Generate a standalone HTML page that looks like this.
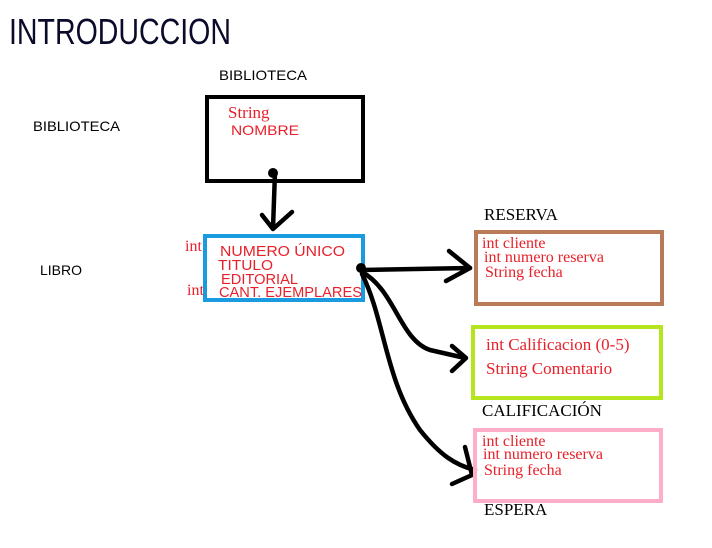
<!DOCTYPE html>
<html><head><style>
body{margin:0;background:#fff;width:712px;height:548px;overflow:hidden}
svg{display:block}
.s{font-family:"Liberation Sans",sans-serif}
.r{font-family:"Liberation Serif",serif}
</style></head><body>
<svg width="712" height="548" viewBox="0 0 712 548">
<text x="9" y="44" class="s" font-size="36" fill="#0a0a2a" textLength="222" lengthAdjust="spacingAndGlyphs">INTRODUCCION</text>
<text x="219" y="80" class="s" font-size="14" fill="#000" textLength="88" lengthAdjust="spacingAndGlyphs">BIBLIOTECA</text>
<text x="33" y="131" class="s" font-size="14" fill="#000" textLength="87" lengthAdjust="spacingAndGlyphs">BIBLIOTECA</text>
<text x="40" y="275" class="s" font-size="14" fill="#000">LIBRO</text>
<rect x="207" y="97" width="156" height="84" fill="none" stroke="#000" stroke-width="4"/>
<text x="228" y="118" class="r" font-size="17" fill="#e8202a">String</text>
<text x="231" y="135" class="s" font-size="14" fill="#e8202a" textLength="68" lengthAdjust="spacingAndGlyphs">NOMBRE</text>
<rect x="205" y="236" width="158" height="64" fill="none" stroke="#1a9be0" stroke-width="4"/>
<text x="185" y="251" class="r" font-size="16" fill="#e8202a">int</text>
<text x="187" y="295" class="r" font-size="16" fill="#e8202a">int</text>
<g class="s" font-size="15" fill="#e8202a">
<text x="220" y="256" textLength="125" lengthAdjust="spacingAndGlyphs">NUMERO ÚNICO</text>
<text x="218" y="270" textLength="55" lengthAdjust="spacingAndGlyphs">TITULO</text>
<text x="221" y="284" textLength="77" lengthAdjust="spacingAndGlyphs">EDITORIAL</text>
<text x="219" y="297" textLength="143" lengthAdjust="spacingAndGlyphs">CANT. EJEMPLARES</text>
</g>
<g fill="none" stroke="#000" stroke-width="4.5" stroke-linecap="round" stroke-linejoin="round">
<path d="M275 172 L273 228"/>
<path d="M262 215 L273 229 L292 212"/>
<path d="M361 270 L470 268"/>
<path d="M449 251 L470 268 L446 281"/>
<path d="M362 272 C395 290 400 340 430 350 L465 358"/>
<path d="M452 346 L466 358 L452 371"/>
<path d="M362 274 C385 320 385 380 420 430 C440 455 455 465 475 470"/>
<path d="M465 447 L472 475 L452 484"/>
</g>
<circle cx="273" cy="173" r="5" fill="#000"/>
<circle cx="361" cy="268" r="5" fill="#000"/>
<text x="484" y="220" class="r" font-size="17" fill="#000">RESERVA</text>
<rect x="476" y="232" width="186" height="72" fill="none" stroke="#b97a57" stroke-width="4"/>
<g class="r" font-size="16" fill="#e8202a">
<text x="482" y="248">int cliente</text>
<text x="484" y="262">int numero reserva</text>
<text x="485" y="277">String fecha</text>
</g>
<rect x="473" y="327" width="188" height="71" fill="none" stroke="#b5e61d" stroke-width="4"/>
<g class="r" font-size="17" fill="#e8202a">
<text x="486" y="350">int Calificacion (0-5)</text>
<text x="486" y="374">String Comentario</text>
</g>
<text x="482" y="416" class="r" font-size="17" fill="#000">CALIFICACIÓN</text>
<rect x="475" y="430" width="186" height="71" fill="none" stroke="#ffaec9" stroke-width="4"/>
<g class="r" font-size="16" fill="#e8202a">
<text x="482" y="446">int cliente</text>
<text x="483" y="459">int numero reserva</text>
<text x="484" y="475">String fecha</text>
</g>
<text x="484" y="515" class="r" font-size="17" fill="#000">ESPERA</text>
</svg>
</body></html>
